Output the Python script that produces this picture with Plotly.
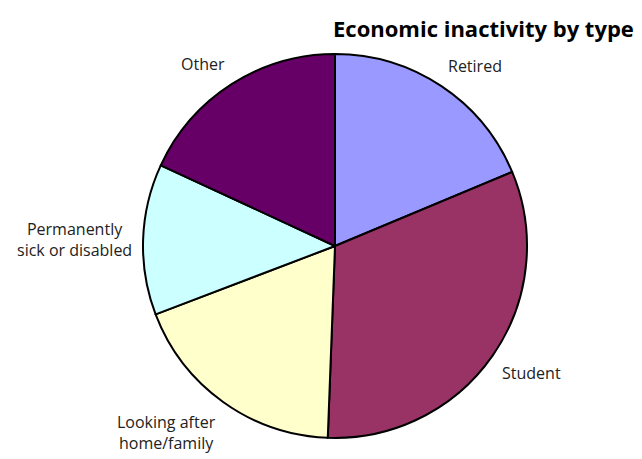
import math
import plotly.graph_objects as go

categories = ["Retired", "Student", "Looking after<br>home/family", "Permanently<br>sick or disabled", "Other"]
values = [18.7, 31.9, 18.6, 12.7, 18.1]
colors = ["#9999FF", "#993366", "#FFFFCC", "#CCFFFF", "#660066"]
title = "Economic inactivity by type"

W, H = 642, 459
OFF = 8                      # page body margin: screen px = paper px + OFF
cx, cy, r = 327, 238, 192    # pie centre / radius in paper px
label_gap = 10
label_size = 16

fig = go.Figure(go.Pie(
    labels=categories,
    values=values,
    sort=False,
    direction="clockwise",
    rotation=0,
    marker=dict(colors=colors, line=dict(color="#000000", width=2)),
    textinfo="none",
    showlegend=False,
    hoverinfo="label+percent",
    domain=dict(x=[(cx - r) / W, (cx + r) / W], y=[1 - (cy + r) / H, 1 - (cy - r) / H]),
    automargin=False,
))

# data-driven outside labels: nearest box corner on each slice's mid-angle ray
annotations = []
total = sum(values)
acc = 0.0
for lab, v in zip(categories, values):
    mid = (acc + v / 2) / total * 2 * math.pi
    acc += v
    s, c = math.sin(mid), math.cos(mid)
    ax = cx + (r + label_gap) * s
    ay = cy - (r + label_gap) * c
    xa = "left" if s > 0.3 else ("right" if s < -0.3 else "center")
    ya = "bottom" if c > 0.3 else ("top" if c < -0.3 else "middle")
    annotations.append(dict(
        text=lab, xref="paper", yref="paper", x=ax / W, y=1 - ay / H,
        xanchor=xa, yanchor=ya, showarrow=False, borderpad=0,
        font=dict(family="Open Sans", size=label_size, color="#222222"),
    ))

annotations.append(dict(text="<b>" + title + "</b>", xref="paper", yref="paper",
                        x=(483.5 - OFF) / W, xanchor="center", y=1 - (28 - OFF) / H,
                        yanchor="middle", showarrow=False,
                        font=dict(family="Open Sans", size=22, color="#000000")))

fig.update_layout(
    width=W, height=H,
    margin=dict(l=0, r=0, t=0, b=0),
    paper_bgcolor="white",
    plot_bgcolor="white",
    annotations=annotations,
)

fig.write_html("out.html")
